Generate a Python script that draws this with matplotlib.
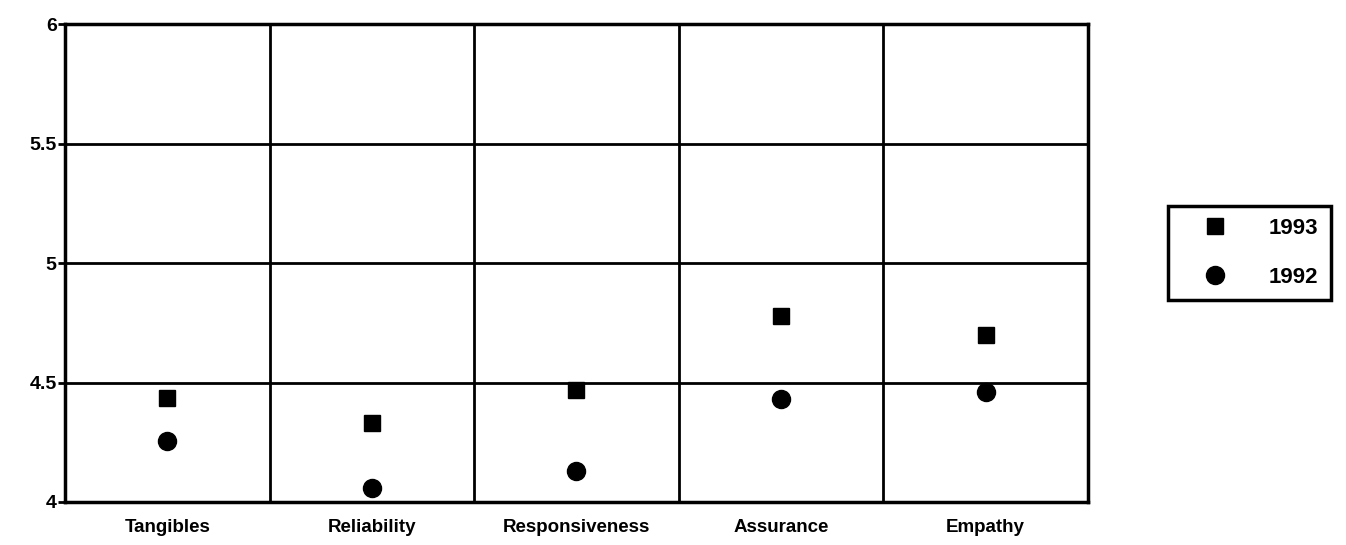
import matplotlib
matplotlib.use("Agg")
import matplotlib.pyplot as plt
from matplotlib.lines import Line2D

plt.rcParams['font.family'] = ['Liberation Sans', 'DejaVu Sans']

categories = ['Tangibles', 'Reliability', 'Responsiveness', 'Assurance', 'Empathy']
scores_1993 = [4.435, 4.33, 4.47, 4.78, 4.70]
scores_1992 = [4.255, 4.06, 4.13, 4.43, 4.46]
y_ticks = [4, 4.5, 5, 5.5, 6]
y_tick_labels = ['4', '4.5', '5', '5.5', '6']

fig = plt.figure(figsize=(13.46, 5.45), dpi=100)
ax = fig.add_axes([0.0483, 0.0789, 0.760, 0.877])

x = list(range(len(categories)))

# grid: horizontal lines at ticks, vertical separators between categories
for yv in y_ticks[1:-1]:
    ax.axhline(yv, color='black', lw=2)
for i in range(len(categories) - 1):
    ax.axvline(i + 0.5, color='black', lw=2)

ax.plot(x, scores_1993, 's', color='black', ms=12, clip_on=False, zorder=3)
ax.plot(x, scores_1992, 'o', color='black', ms=13, clip_on=False, zorder=3)

ax.set_xlim(-0.5, len(categories) - 0.5)
ax.set_ylim(4, 6)
ax.set_xticks(x)
ax.set_xticklabels(categories, fontsize=13.5, fontweight='bold')
ax.set_yticks(y_ticks)
ax.set_yticklabels(y_tick_labels, fontsize=14, fontweight='bold')
ax.tick_params(axis='x', length=0, pad=12)
ax.tick_params(axis='y', length=5, width=2, pad=1)
for s in ax.spines.values():
    s.set_linewidth(2.5)

handles = [
    Line2D([], [], marker='s', color='black', ls='none', ms=12),
    Line2D([], [], marker='o', color='black', ls='none', ms=13),
]
leg = fig.legend(handles, ['1993', '1992'], loc='upper left',
                 bbox_to_anchor=(1168 / 1346, 1 - 206 / 545),
                 prop={'size': 16, 'weight': 'bold'}, frameon=True, fancybox=False,
                 edgecolor='black', framealpha=1, handletextpad=0.9, borderpad=0.55,
                 labelspacing=1.25, handlelength=3.1, borderaxespad=0)
leg.get_frame().set_linewidth(2.5)

fig.savefig('out.png', dpi=100)
